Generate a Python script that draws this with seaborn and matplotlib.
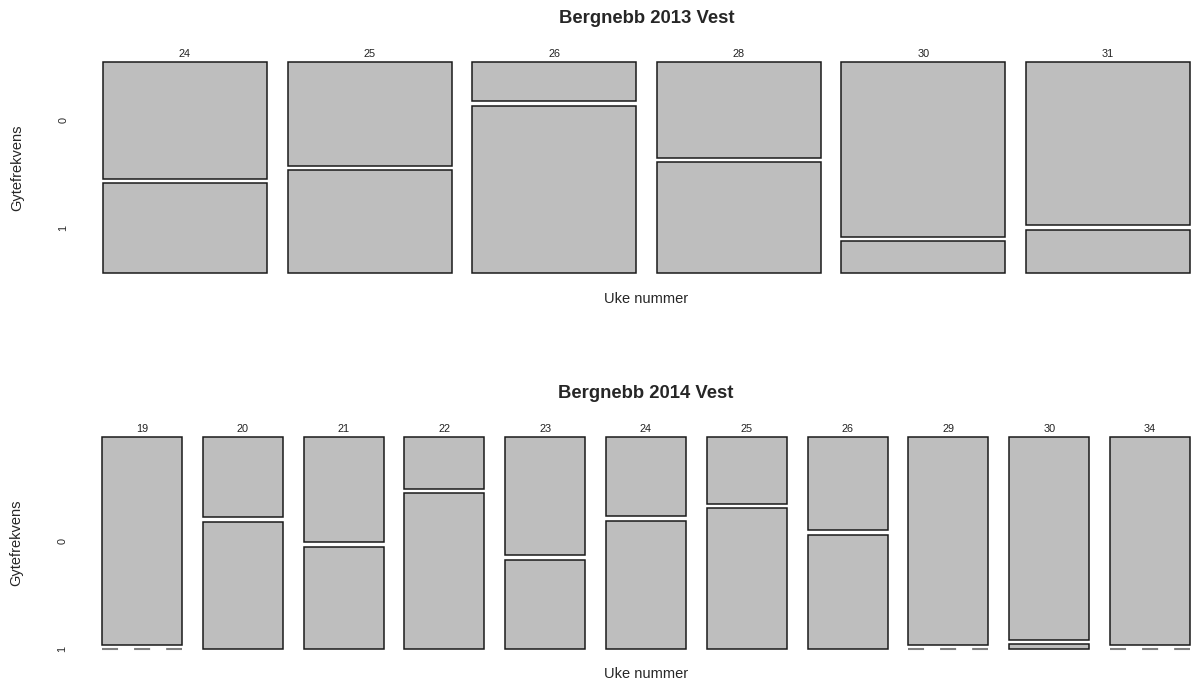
"""
Bergnebb spawning frequency per week - mosaic plots for 2013 and 2014 (Vest).
"""
import numpy as np
import matplotlib
matplotlib.use('Agg')
import matplotlib.pyplot as plt
import seaborn as sns

sns.set_style("white")
plt.rcParams['font.family'] = ['Liberation Sans', 'DejaVu Sans']

# data: share of observations with Gytefrekvens == 0 per week
weeks_2013 = ['24', '25', '26', '28', '30', '31']
share0_2013 = [0.565, 0.504, 0.19, 0.465, 0.845, 0.79]

weeks_2014 = ['19', '20', '21', '22', '23', '24', '25', '26', '29', '30', '34']
share0_2014 = [1.0, 0.387, 0.507, 0.25, 0.57, 0.382, 0.321, 0.449, 1.0, 0.978, 1.0]

levels = ['0', '1']

GAP = 0.02
FILL = '#bebebe'
EDGE = '#1a1a1a'


def mosaic(ax, weeks, share0, width, dash, title):
    x = np.arange(len(weeks))
    s0 = np.array(share0)
    avail = 1 - GAP
    h0 = s0 * avail
    h1 = (1 - s0) * avail

    # level 0 on top, level 1 below
    ax.bar(x, h0, width, bottom=1 - h0, color=FILL, edgecolor=EDGE,
           linewidth=1.1, clip_on=False)
    has1 = h1 > 0
    ax.bar(x[has1], h1[has1], width, bottom=0, color=FILL, edgecolor=EDGE,
           linewidth=1.1, clip_on=False)
    # empty cells drawn as dashed line
    for xi in x[~has1]:
        ax.hlines(0, xi - width / 2, xi + width / 2, colors='#7f7f7f',
                  linewidth=1.5, linestyles=(0, (dash, dash)), clip_on=False)

    ax.set_xlim(-width / 2, len(weeks) - 1 + width / 2)
    ax.set_ylim(0, 1)
    ax.set_xticks(x, labels=weeks)
    ax.tick_params(axis='x', top=True, labeltop=True, bottom=False,
                   labelbottom=False, length=0, pad=2, labelsize=7.8,
                   labelcolor='#222222')
    ax.set_yticks([1 - h0[0] / 2, h1[0] / 2], labels=levels)
    ax.tick_params(axis='y', length=0, pad=25, labelsize=7.8,
                   labelrotation=90)
    for lab in ax.get_yticklabels():
        lab.set_va('center')
    for s in ax.spines.values():
        s.set_visible(False)

    ax.set_title(title, fontsize=13.3, fontweight='bold', pad=28)
    ax.set_xlabel('Uke nummer', fontsize=10.5)
    ax.set_ylabel('Gytefrekvens', fontsize=10.5)
    ax.yaxis.set_label_coords(-0.072, 0.5)


fig = plt.figure(figsize=(11.92, 6.81), dpi=100)
ax1 = fig.add_axes([103 / 1192, 1 - 273 / 681, 1087 / 1192, 211 / 681])
ax2 = fig.add_axes([102 / 1192, 1 - 649 / 681, 1088 / 1192, 212 / 681])

mosaic(ax1, weeks_2013, share0_2013, 0.888, 7.7, 'Bergnebb 2013 Vest')
mosaic(ax2, weeks_2014, share0_2014, 0.794, 7.7, 'Bergnebb 2014 Vest')
ax1.xaxis.set_label_coords(0.5, -0.09)
ax2.xaxis.set_label_coords(0.5, -0.085)

fig.savefig('out.png', dpi=100)
plt.close(fig)
